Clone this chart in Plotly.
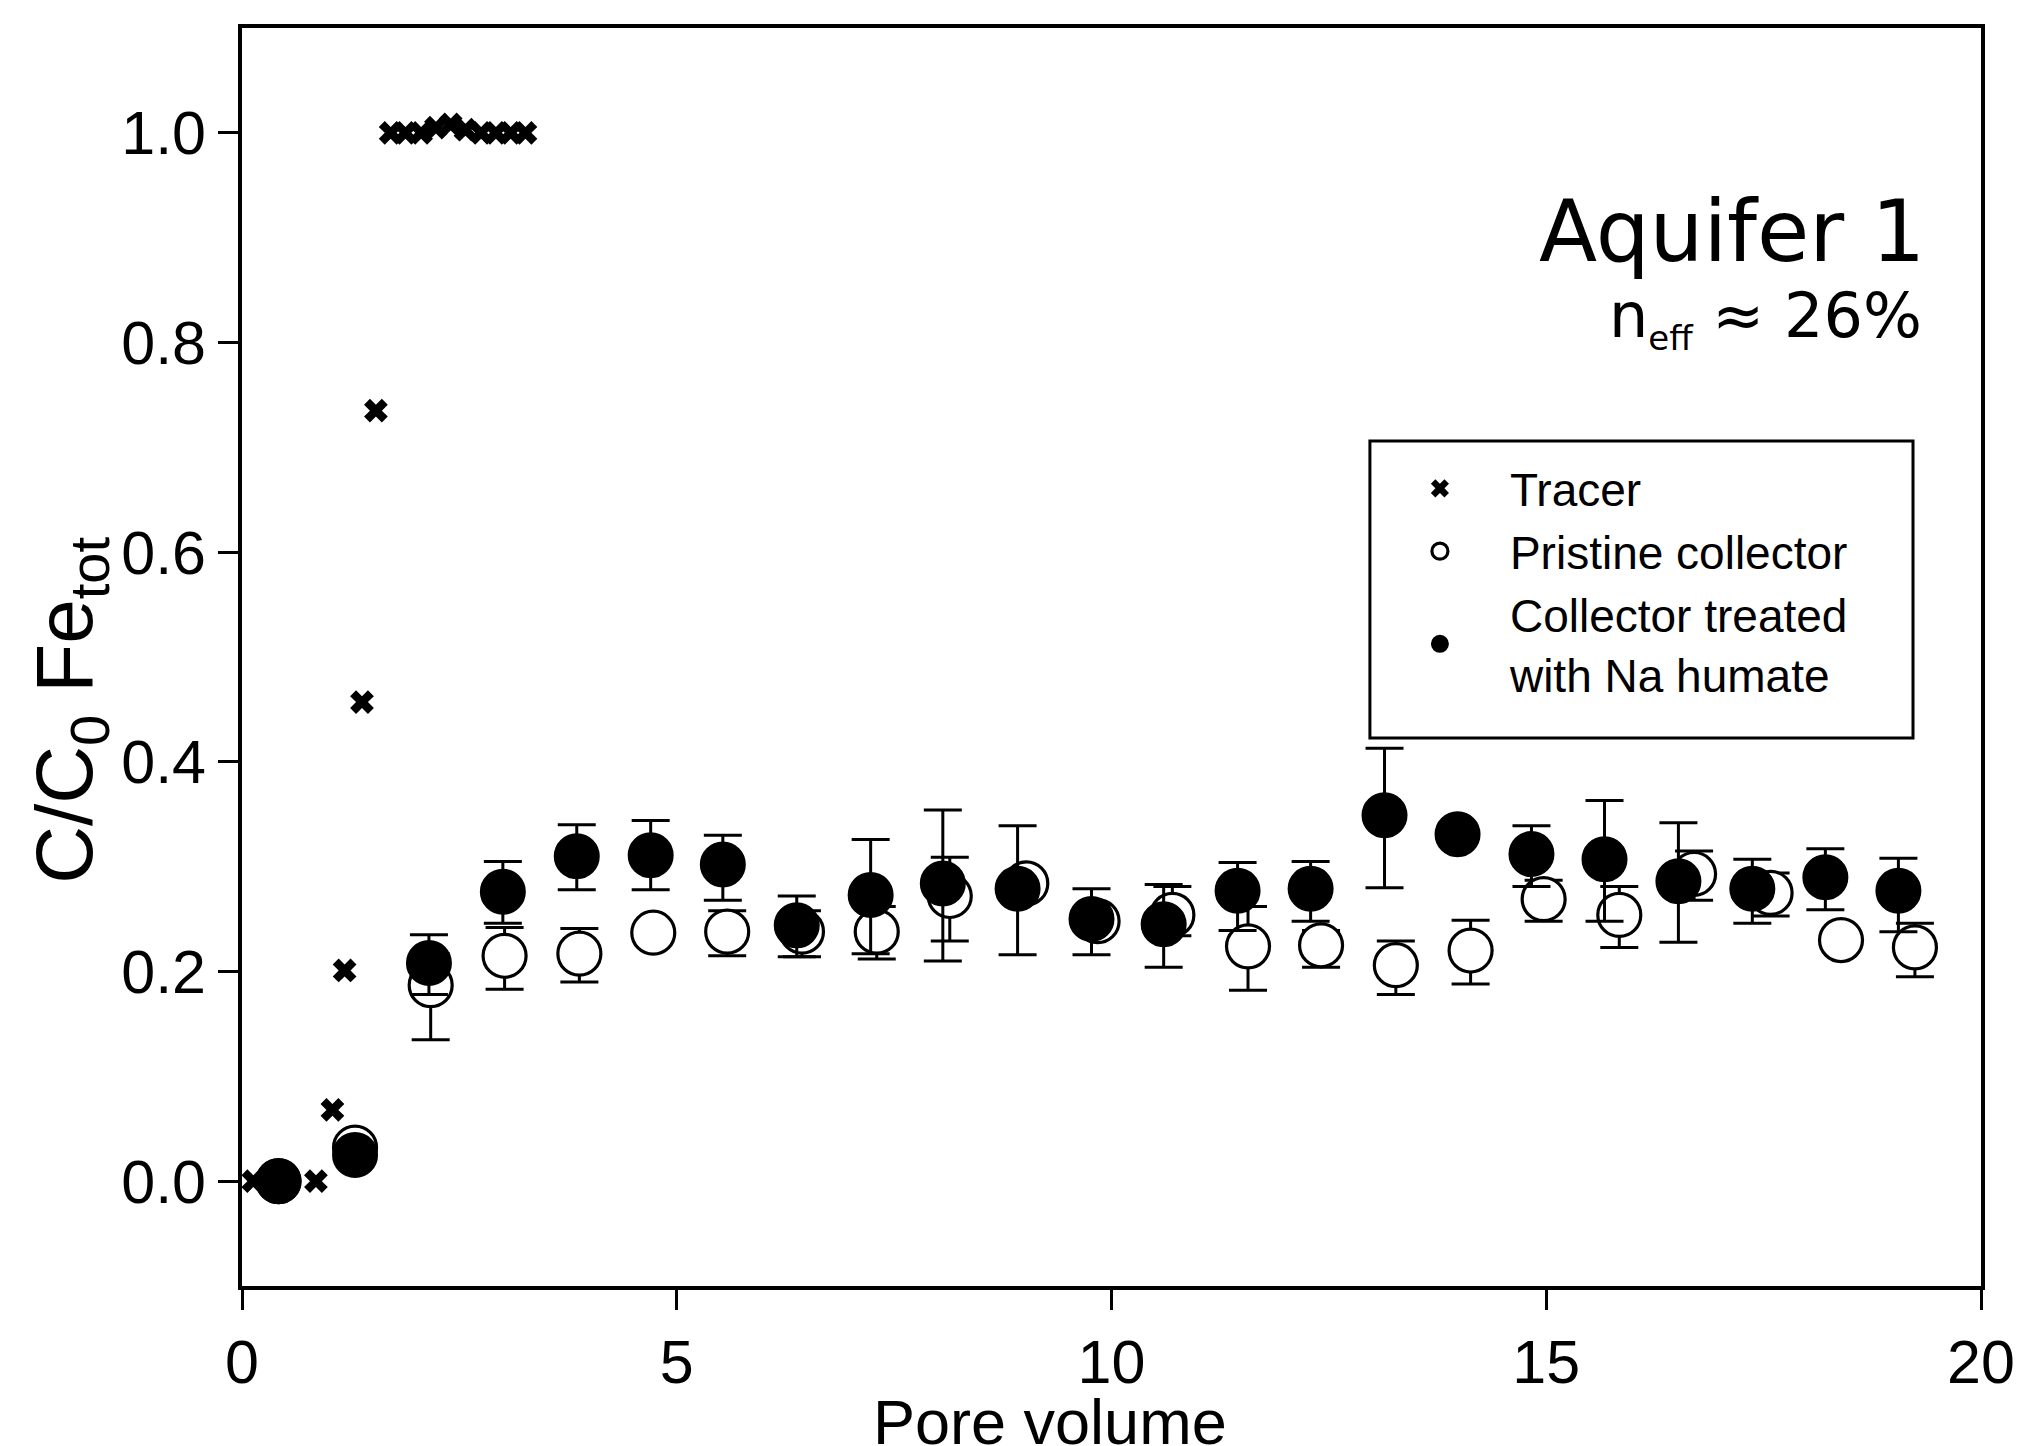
import plotly.graph_objects as go

# ---- data ----
tracer_x = [0.13, 0.85, 1.04, 1.18, 1.38, 1.54, 1.71, 1.88, 2.06, 2.23, 2.40, 2.57, 2.75, 2.92, 3.09, 3.26]
tracer_y = [0.0, 0.0, 0.068, 0.201, 0.457, 0.735, 1.0, 1.0, 1.0, 1.005, 1.008, 1.003, 1.0, 1.0, 1.0, 1.0]

pristine_x = [0.42, 1.30, 2.17, 3.02, 3.88, 4.73, 5.58, 6.44, 7.30, 8.14, 9.02, 9.84, 10.70,
              11.57, 12.41, 13.27, 14.13, 14.97, 15.84, 16.70, 17.58, 18.39, 19.24]
pristine_y = [0.0, 0.032, 0.187, 0.215, 0.217, 0.237, 0.238, 0.238, 0.238, 0.272, 0.284, 0.248, 0.254,
              0.224, 0.225, 0.206, 0.220, 0.269, 0.254, 0.293, 0.275, 0.230, 0.223]
pristine_err_plus = [0, 0, 0.03, 0.027, 0.024, 0.0, 0.020, 0.020, 0.024, 0.037, 0.0, 0.0, 0.027,
                     0.038, 0.014, 0.023, 0.029, 0.018, 0.027, 0.022, 0.019, 0.0, 0.023]
pristine_err_minus = [0, 0, 0.052, 0.032, 0.027, 0.0, 0.023, 0.024, 0.026, 0.043, 0.0, 0.0, 0.020,
                      0.042, 0.021, 0.028, 0.032, 0.021, 0.031, 0.025, 0.022, 0.0, 0.028]

treated_x = [0.42, 1.30, 2.15, 3.00, 3.85, 4.70, 5.53, 6.38, 7.23, 8.06, 8.92, 9.77, 10.60,
             11.45, 12.29, 13.14, 13.98, 14.83, 15.67, 16.52, 17.37, 18.21, 19.05]
treated_y = [0.0, 0.025, 0.208, 0.276, 0.310, 0.311, 0.302, 0.244, 0.273, 0.284, 0.279, 0.250, 0.245,
             0.277, 0.279, 0.349, 0.331, 0.312, 0.307, 0.286, 0.279, 0.290, 0.277]
treated_err_plus = [0, 0, 0.027, 0.029, 0.030, 0.033, 0.028, 0.028, 0.053, 0.070, 0.060, 0.029, 0.038,
                    0.027, 0.026, 0.064, 0.0, 0.027, 0.056, 0.056, 0.028, 0.027, 0.031]
treated_err_minus = [0, 0, 0.030, 0.030, 0.032, 0.033, 0.034, 0.030, 0.056, 0.074, 0.063, 0.034, 0.041,
                     0.038, 0.031, 0.069, 0.0, 0.031, 0.059, 0.058, 0.033, 0.031, 0.039]

x_ticks = [0, 5, 10, 15, 20]
y_ticks = [0.0, 0.2, 0.4, 0.6, 0.8, 1.0]
y_tick_text = ["0.0", "0.2", "0.4", "0.6", "0.8", "1.0"]

# page has an 8px body margin, so the figure is 8px smaller than the window
W, H = 2015, 1438
FONT = "Liberation Sans, Arial, sans-serif"

fig = go.Figure()

fig.add_trace(go.Scatter(
    x=tracer_x, y=tracer_y, mode="markers", name="Tracer",
    marker=dict(symbol="x", size=21, color="black", line=dict(width=0)),
))

fig.add_trace(go.Scatter(
    x=pristine_x, y=pristine_y, mode="markers", name="Pristine collector",
    marker=dict(symbol="circle", size=43, color="white", line=dict(width=3.2, color="black")),
    error_y=dict(type="data", symmetric=False, array=pristine_err_plus,
                 arrayminus=pristine_err_minus, color="black", thickness=3, width=19),
))

fig.add_trace(go.Scatter(
    x=treated_x, y=treated_y, mode="markers", name="Collector treated<br>with Na humate",
    marker=dict(symbol="circle", size=44, color="black", line=dict(width=2, color="black")),
    error_y=dict(type="data", symmetric=False, array=treated_err_plus,
                 arrayminus=treated_err_minus, color="black", thickness=3, width=19),
))

axis_common = dict(
    showline=True, linecolor="black", linewidth=3.5, mirror=True,
    ticks="outside", ticklen=20, tickwidth=3, tickcolor="black",
    showgrid=False, zeroline=False,
    tickfont=dict(family=FONT, size=61, color="black"),
)

fig.update_xaxes(range=[0, 20], tickvals=x_ticks, **axis_common)
fig.update_yaxes(range=[-0.1, 1.1], tickvals=y_ticks, ticktext=y_tick_text, **axis_common)

# axis titles placed as text where the reference has them
fig.add_annotation(
    text="Pore volume", xref="paper", yref="paper", x=0.4646, y=-0.1085,
    xanchor="center", yanchor="middle", showarrow=False,
    font=dict(family=FONT, size=63, color="black"),
)
fig.add_annotation(
    text="C/C<sub>0</sub> Fe<sub>tot</sub>", xref="paper", yref="paper", x=-0.0984, y=0.4579,
    xanchor="center", yanchor="middle", textangle=-90, showarrow=False,
    font=dict(family=FONT, size=80, color="black"),
)

fig.add_annotation(
    text="Aquifer 1", xref="paper", yref="paper", x=0.969, y=0.8386,
    xanchor="right", yanchor="middle", showarrow=False,
    font=dict(family="DejaVu Sans", size=85, color="black"),
)
fig.add_annotation(
    text="n<sub><span style='font-size:34px'>eff</span></sub> \u2248 26%", xref="paper", yref="paper",
    x=0.967, y=0.7687,
    xanchor="right", yanchor="middle", showarrow=False,
    font=dict(family="DejaVu Sans", size=62, color="black"),
)

# legend frame
fig.add_shape(
    type="rect", xref="paper", yref="paper", x0=0.6486, x1=0.9609, y0=0.4356, y1=0.6717,
    line=dict(color="black", width=3), fillcolor="rgba(0,0,0,0)", layer="above",
)

fig.update_layout(
    width=W, height=H,
    margin=dict(l=234, r=42, t=20, b=160, autoexpand=False),
    paper_bgcolor="white", plot_bgcolor="white",
    showlegend=True,
    legend=dict(
        x=0.6486, y=0.663, xanchor="left", yanchor="top",
        borderwidth=0, bgcolor="rgba(0,0,0,0)",
        font=dict(family=FONT, size=46, color="black"),
        itemwidth=130, itemsizing="trace",
        traceorder="normal",
    ),
)

fig.write_html("out.html")
